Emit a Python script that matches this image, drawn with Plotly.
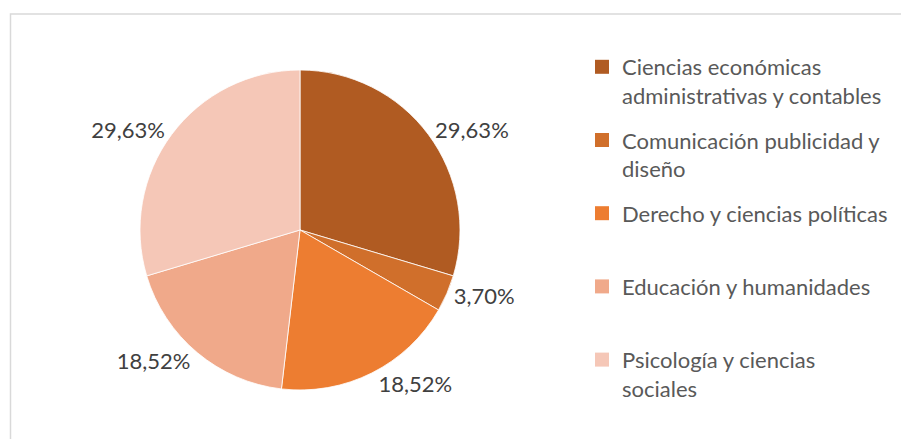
import plotly.graph_objects as go

categories = [
    "Ciencias económicas administrativas y contables",
    "Comunicación publicidad y diseño",
    "Derecho y ciencias políticas",
    "Educación y humanidades",
    "Psicología y ciencias sociales",
]
legend_labels = [
    "Ciencias económicas<br>administrativas y contables",
    "Comunicación publicidad y<br>diseño",
    "Derecho y ciencias políticas<br> ",
    "Educación y humanidades<br> ",
    "Psicología y ciencias<br>sociales",
]
counts = [8, 1, 5, 5, 8]
colors = ["#B05B22", "#D06F2B", "#ED7D31", "#F0A98A", "#F5C7B7"]

W, H = 901, 439
FONT = "Lato"

fig = go.Figure()
fig.add_trace(go.Pie(
    labels=categories,
    values=counts,
    sort=False,
    direction="clockwise",
    rotation=0,
    marker=dict(colors=colors, line=dict(color="white", width=0.8)),
    textposition="outside",
    texttemplate="%{percent:.2%}",
    textfont=dict(family=FONT, size=22, color="#404040"),
    showlegend=False,
    hoverinfo="label+percent",
    domain=dict(x=[140 / W, 460 / W], y=[1 - 390 / H, 1 - 70 / H]),
))

# legend entries (one group each to reproduce the spacing of the original)
for i, (lab, col) in enumerate(zip(legend_labels, colors)):
    fig.add_trace(go.Scatter(
        x=[None], y=[None], mode="markers", name=lab,
        marker=dict(symbol="square", size=14, color=col, line=dict(width=0)),
        legendgroup=f"g{i}", showlegend=True, hoverinfo="skip",
    ))

fig.update_layout(
    width=W, height=H,
    margin=dict(l=0, r=0, t=0, b=0),
    paper_bgcolor="white", plot_bgcolor="white",
    separators=",.",
    xaxis=dict(visible=False), yaxis=dict(visible=False),
    legend=dict(
        x=582 / W, y=1 - 46 / H, xanchor="left", yanchor="top",
        font=dict(family=FONT, size=22, color="#595959"),
        valign="top", traceorder="grouped", tracegroupgap=13,
        itemclick=False, itemdoubleclick=False,
    ),
    shapes=[dict(type="rect", xref="paper", yref="paper",
                 x0=10.5 / W, x1=1.02, y0=-0.05, y1=1 - 14 / H,
                 line=dict(color="#D9D9D9", width=1.5), fillcolor="rgba(0,0,0,0)",
                 layer="below")],
)

fig.write_html("out.html", config={"displayModeBar": False},
               post_script="document.body.style.margin='0';")
